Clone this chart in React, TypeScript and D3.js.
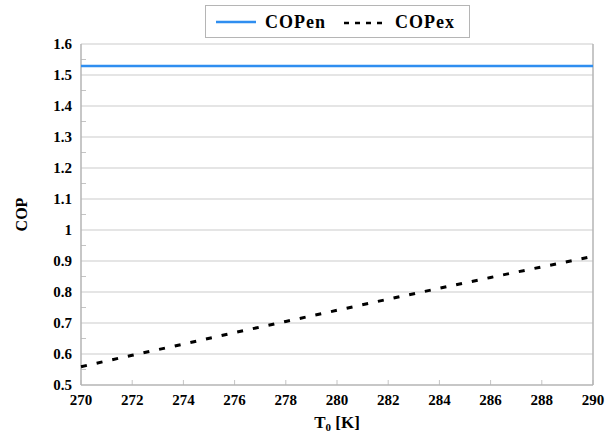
import React, { useEffect, useRef } from 'react';
import * as d3 from 'd3';

const temps = [270, 272, 274, 276, 278, 280, 282, 284, 286, 288, 290];
const copEn = [1.529, 1.529, 1.529, 1.529, 1.529, 1.529, 1.529, 1.529, 1.529, 1.529, 1.529];
const copEx = [0.559, 0.596, 0.632, 0.669, 0.705, 0.741, 0.777, 0.812, 0.847, 0.881, 0.915];
const yTicks = [0.5, 0.6, 0.7, 0.8, 0.9, 1, 1.1, 1.2, 1.3, 1.4, 1.5, 1.6];
const xTicks = [270, 272, 274, 276, 278, 280, 282, 284, 286, 288, 290];

const W = 606;
const H = 435;
const margin = { top: 44, right: 13, bottom: 50, left: 81 };
const font = "'Times New Roman', Times, 'Liberation Serif', 'DejaVu Serif', serif";

const App = () => {
    const svgRef = useRef<SVGSVGElement | null>(null);

    useEffect(() => {
        if (!svgRef.current) return;
        const svg = d3.select(svgRef.current);
        svg.selectAll('*').remove();

        const x = d3.scaleLinear().domain([270, 290]).range([margin.left, W - margin.right]);
        const y = d3.scaleLinear().domain([0.5, 1.6]).range([H - margin.bottom, margin.top]);

        svg.append('rect').attr('width', W).attr('height', H).attr('fill', '#fff');

        // horizontal gridlines
        svg.append('g')
            .selectAll('line')
            .data(yTicks.slice(1))
            .enter().append('line')
            .attr('x1', margin.left).attr('x2', W - margin.right)
            .attr('y1', d => y(d)).attr('y2', d => y(d))
            .attr('stroke', '#dcdcdc').attr('stroke-width', 1.3);

        // minor y ticks (inside)
        const minor = d3.range(0.55, 1.6, 0.1);
        svg.append('g')
            .selectAll('line')
            .data(minor)
            .enter().append('line')
            .attr('x1', margin.left).attr('x2', margin.left + 5)
            .attr('y1', d => y(d)).attr('y2', d => y(d))
            .attr('stroke', '#c4c4c4').attr('stroke-width', 1);

        // x ticks (inside)
        svg.append('g')
            .selectAll('line')
            .data(xTicks)
            .enter().append('line')
            .attr('x1', d => x(d)).attr('x2', d => x(d))
            .attr('y1', H - margin.bottom).attr('y2', H - margin.bottom - 5)
            .attr('stroke', '#c4c4c4').attr('stroke-width', 1);

        // axis frame: left, bottom, right
        const frame = svg.append('g').attr('stroke', '#b5b5b5').attr('stroke-width', 1.5);
        frame.append('line').attr('x1', margin.left).attr('x2', margin.left)
            .attr('y1', margin.top).attr('y2', H - margin.bottom);
        frame.append('line').attr('x1', margin.left).attr('x2', W - margin.right)
            .attr('y1', H - margin.bottom).attr('y2', H - margin.bottom);
        frame.append('line').attr('x1', W - margin.right).attr('x2', W - margin.right)
            .attr('y1', margin.top).attr('y2', H - margin.bottom);

        const txt = (sel: any, size: number) =>
            sel.style('font-family', font).style('font-weight', '700').style('font-size', `${size}px`);

        // tick labels
        txt(svg.append('g')
            .selectAll('text')
            .data(yTicks)
            .enter().append('text')
            .attr('x', margin.left - 9)
            .attr('y', d => y(d))
            .attr('dy', '0.35em')
            .attr('text-anchor', 'end'), 15)
            .text(d => String(d));

        txt(svg.append('g')
            .selectAll('text')
            .data(xTicks)
            .enter().append('text')
            .attr('x', d => x(d))
            .attr('y', H - margin.bottom + 20)
            .attr('text-anchor', 'middle'), 15)
            .text(d => String(d));

        // axis titles
        const xt = txt(svg.append('text')
            .attr('x', (margin.left + W - margin.right) / 2)
            .attr('y', H - 7)
            .attr('text-anchor', 'middle'), 17);
        xt.append('tspan').text('T');
        xt.append('tspan').style('font-size', '11px').attr('dy', 3).text('0');
        xt.append('tspan').attr('dy', -3).text(' [K]');

        txt(svg.append('text')
            .attr('transform', `translate(27,${(margin.top + H - margin.bottom) / 2}) rotate(-90)`)
            .attr('text-anchor', 'middle'), 16)
            .text('COP');

        const line = d3.line<number>()
            .x((d, i) => x(temps[i]))
            .y(d => y(d));

        svg.append('path')
            .datum(copEn)
            .attr('fill', 'none')
            .attr('stroke', '#2f8ef0')
            .attr('stroke-width', 2.5)
            .attr('d', line);

        svg.append('path')
            .datum(copEx)
            .attr('fill', 'none')
            .attr('stroke', '#000')
            .attr('stroke-width', 3)
            .attr('stroke-dasharray', '6,10')
            .attr('d', line);

        // legend
        const lg = svg.append('g');
        lg.append('rect')
            .attr('x', 205.5).attr('y', 5.5).attr('width', 264).attr('height', 32)
            .attr('fill', '#fff').attr('stroke', '#b5b5b5').attr('stroke-width', 1);
        lg.append('line')
            .attr('x1', 216).attr('x2', 256).attr('y1', 22).attr('y2', 22)
            .attr('stroke', '#2f8ef0').attr('stroke-width', 2.5);
        txt(lg.append('text')
            .attr('x', 265).attr('y', 22).attr('dy', '0.35em')
            .style('letter-spacing', '1px'), 18)
            .text('COPen');
        lg.append('line')
            .attr('x1', 344).attr('x2', 384).attr('y1', 23).attr('y2', 23)
            .attr('stroke', '#000').attr('stroke-width', 2.5)
            .attr('stroke-dasharray', '5,6');
        txt(lg.append('text')
            .attr('x', 395).attr('y', 22).attr('dy', '0.35em')
            .style('letter-spacing', '1px'), 18)
            .text('COPex');
    }, []);

    return (
        <div style={{ position: 'absolute', left: 0, top: 0 }}>
            <svg ref={svgRef} width={W} height={H} style={{ display: 'block' }} />
        </div>
    );
};

export default App;
